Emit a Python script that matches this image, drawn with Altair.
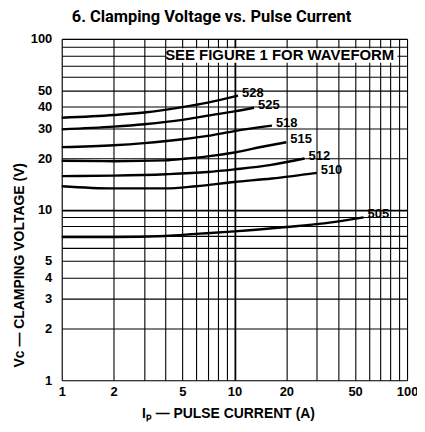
import altair as alt
import pandas as pd

# ---- data ----
series_names = ["528", "525", "518", "515", "512", "510", "505"]
s528_x = [1, 2, 3, 5, 7, 10.5]
s528_y = [34.5, 35.8, 37.0, 39.8, 42.3, 46.5]
s525_x = [1, 2, 3, 5, 7, 10, 13]
s525_y = [29.5, 30.6, 31.6, 33.5, 35.5, 37.6, 39.5]
s518_x = [1, 2, 3, 5, 7, 10, 16.5]
s518_y = [23.2, 23.8, 24.5, 25.8, 27.0, 28.8, 31.0]
s515_x = [1, 2, 4, 5.3, 7, 10, 15, 20]
s515_y = [19.3, 19.2, 19.4, 19.9, 20.5, 21.6, 23.5, 24.8]
s512_x = [1, 2, 4, 7, 10, 16, 25.5]
s512_y = [15.7, 15.8, 16.1, 16.6, 17.2, 18.2, 19.9]
s510_x = [1, 2, 4, 6, 10, 16.5, 30]
s510_y = [13.7, 13.3, 13.3, 13.7, 14.5, 15.2, 16.4]
s505_x = [1, 2, 4, 6, 10, 20, 33, 56]
s505_y = [6.9, 6.9, 7.0, 7.2, 7.45, 7.9, 8.3, 9.0]

grid_ticks_x = [1, 2, 3, 4, 5, 6, 7, 8, 9, 10, 20, 30, 40, 50, 60, 70, 80, 90, 100]
grid_ticks_y = [1, 2, 3, 4, 5, 6, 7, 8, 9, 10, 20, 30, 40, 50, 60, 70, 80, 90, 100]
label_ticks_x = [1, 2, 5, 10, 20, 50, 100]
label_ticks_y = [1, 2, 3, 4, 5, 10, 20, 30, 40, 50, 100]

note_text = ["SEE FIGURE 1 FOR WAVEFORM"]
note_x = [18.3]
note_y = [80]
note_box_x = [4.05, 88]
note_box_y = [72.5, 88]

# ---- tables ----
xs_all = [s528_x, s525_x, s518_x, s515_x, s512_x, s510_x, s505_x]
ys_all = [s528_y, s525_y, s518_y, s515_y, s512_y, s510_y, s505_y]
rows = []
for name, xs, ys in zip(series_names, xs_all, ys_all):
    for i, (a, b) in enumerate(zip(xs, ys)):
        rows.append({"series": name, "I": a, "V": b, "order": i})
df = pd.DataFrame(rows)
lab = pd.DataFrame({
    "series": series_names,
    "I": [xs[-1] for xs in xs_all],
    "V": [ys[-1] for ys in ys_all],
})
note = pd.DataFrame({"text": note_text, "I": note_x, "V": note_y})
box = pd.DataFrame({"I": [note_box_x[0]], "I2": [note_box_x[1]],
                    "V": [note_box_y[0]], "V2": [note_box_y[1]]})

FONT = "Liberation Sans"

xscale = alt.Scale(type="log", domain=[1, 100], nice=False)
yscale = alt.Scale(type="log", domain=[1, 100], nice=False)

def lbl_expr(vals):
    arr = "[" + ",".join(str(v) for v in vals) + "]"
    return f"indexof({arr}, datum.value) >= 0 ? '' + datum.value : ''"

grid_w = {"condition": {"test": "datum.value == 10", "value": 1.8}, "value": 1.1}

xaxis = alt.Axis(values=grid_ticks_x, labelExpr=lbl_expr(label_ticks_x),
                 grid=True, gridColor="black", gridOpacity=1, gridWidth=grid_w,
                 ticks=False, domain=False, labelFlush=False, labelOverlap=False,
                 labelFont=FONT, labelFontSize=13, labelFontWeight="bold",
                 labelColor="black", labelPadding=5,
                 titleFont=FONT, titleFontSize=14, titleFontWeight="bold",
                 titleColor="black", titlePadding=8, titleX=167)
yaxis = alt.Axis(values=grid_ticks_y, labelExpr=lbl_expr(label_ticks_y),
                 grid=True, gridColor="black", gridOpacity=1, gridWidth=grid_w,
                 ticks=False, domain=False, labelOverlap=False,
                 labelFont=FONT, labelFontSize=13, labelFontWeight="bold",
                 labelColor="black", labelPadding=10,
                 titleFont=FONT, titleFontSize=14, titleFontWeight="bold",
                 titleColor="black", titleX=-42, titleY=227,
                 titleAlign="center", titleBaseline="middle", titleAngle=270)

X = alt.X("I:Q", scale=xscale, axis=xaxis, title="Iₚ — PULSE CURRENT (A)")
Y = alt.Y("V:Q", scale=yscale, axis=yaxis, title="Vc — CLAMPING VOLTAGE (V)")

lines = alt.Chart(df).mark_line(color="black", strokeWidth=2.4,
                                interpolate="monotone").encode(
    x=X, y=Y, detail="series:N", order="order:Q")

labels = alt.Chart(lab).mark_text(align="left", baseline="middle", dx=4, dy=-3,
                                  font=FONT, fontSize=13, fontWeight="bold",
                                  color="black").encode(
    x="I:Q", y="V:Q", text="series:N")

box_mark = alt.Chart(box).mark_rect(color="white").encode(
    x="I:Q", x2="I2:Q", y="V:Q", y2="V2:Q")

note_mark = alt.Chart(note).mark_text(align="center", baseline="middle",
                                      font=FONT, fontSize=15, fontWeight="bold",
                                      color="black").encode(
    x="I:Q", y="V:Q", text="text:N")

chart = alt.layer(lines, box_mark, note_mark, labels).properties(
    width=347, height=343,
    autosize="none",
    padding={"left": 54, "top": 30, "right": 10, "bottom": 43},
    title=alt.TitleParams("6.  Clamping Voltage vs. Pulse Current",
                          font="Roboto", fontSize=16.5, fontWeight="bold",
                          color="black", anchor="middle", dx=-23, offset=7),
).configure_view(stroke="black", strokeWidth=1.6).configure(background="white")

chart.save("out.html", embed_options={"renderer": "svg", "actions": False})
